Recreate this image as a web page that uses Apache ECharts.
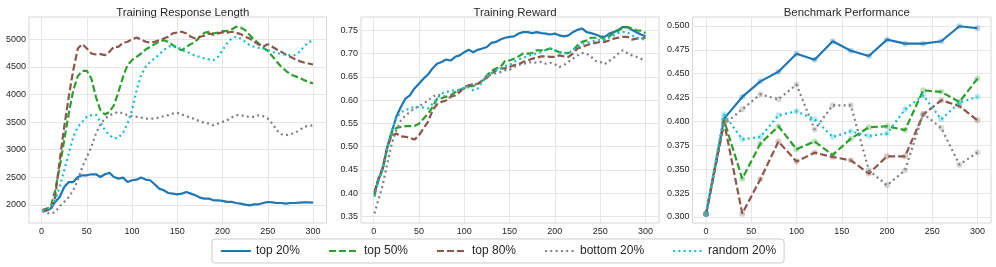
<!DOCTYPE html>
<html>
<head>
<meta charset="utf-8">
<script src="https://cdn.jsdelivr.net/npm/echarts@6/dist/echarts.min.js"></script>
<style>html,body{margin:0;padding:0;background:#fff}#c{width:996px;height:267px}</style>
</head>
<body>
<div id="c"></div>
<script>
// ---- data ----
const methods = ['top 20%', 'top 50%', 'top 80%', 'bottom 20%', 'random 20%'];
const panelTitles = ['Training Response Length', 'Training Reward', 'Benchmark Performance'];
const trainSteps = [1,5,10,15,20,25,30,35,40,45,50,55,60,65,70,75,80,85,90,95,100,105,110,115,120,125,130,135,140,145,150,155,160,165,170,175,180,185,190,195,200,205,210,215,220,225,230,235,240,245,250,255,260,265,270,275,280,285,290,295,300];
const evalSteps = [0,20,40,60,80,100,120,140,160,180,200,220,240,260,280,300];
const xTicks = [0,50,100,150,200,250,300];
const lenTicks = [2000,2500,3000,3500,4000,4500,5000];
const rewTicks = [0.35,0.40,0.45,0.50,0.55,0.60,0.65,0.70,0.75];
const benTicks = [0.300,0.325,0.350,0.375,0.400,0.425,0.450,0.475,0.500];

const lenTop20 = [1890,1895,1935,2055,2145,2325,2415,2415,2505,2537,2537,2555,2555,2507,2555,2580,2507,2477,2495,2417,2447,2457,2495,2460,2447,2374,2296,2266,2217,2205,2193,2205,2235,2205,2175,2133,2115,2115,2085,2085,2073,2055,2055,2036,2024,2006,1994,2012,2012,2036,2054,2048,2036,2036,2024,2036,2036,2042,2048,2048,2042];
const lenTop50 = [1900,1930,1960,2265,2690,3170,3654,4076,4330,4427,4427,4288,3956,3714,3636,3684,3805,4046,4318,4529,4620,4680,4740,4813,4861,4909,4952,4980,4952,4891,4831,4800,4861,4909,4952,5042,5115,5133,5102,5120,5145,5145,5175,5223,5210,5163,5072,4994,4922,4843,4789,4692,4590,4499,4427,4366,4330,4306,4258,4227,4197];
const lenTop80 = [1915,1915,1903,2145,2809,3412,3956,4439,4831,4909,4831,4740,4722,4728,4710,4770,4861,4861,4934,4952,4994,5030,4994,4952,4940,4952,4982,5012,5042,5103,5121,5133,5103,5042,5012,5042,5060,5103,5078,5103,5121,5115,5133,5115,5090,5042,5012,4952,4903,4861,4909,4861,4813,4770,4722,4680,4638,4602,4577,4559,4541];
const lenBottom20 = [1890,1855,1843,1873,1976,2055,2145,2266,2447,2688,2869,3050,3292,3461,3563,3624,3654,3684,3654,3624,3606,3594,3582,3563,3563,3563,3582,3606,3624,3654,3666,3636,3606,3582,3545,3515,3485,3473,3443,3473,3503,3533,3582,3624,3624,3606,3594,3594,3624,3606,3563,3473,3352,3280,3262,3280,3304,3352,3413,3431,3443];
const lenRandom20 = [1903,1915,1952,2085,2326,2628,2930,3231,3413,3503,3594,3624,3636,3503,3352,3262,3201,3219,3304,3473,3714,4076,4348,4499,4590,4650,4722,4800,4861,4891,4861,4800,4770,4740,4692,4680,4650,4632,4620,4680,4800,4922,5012,5042,5012,4952,4891,4861,4843,4831,4800,4770,4740,4740,4710,4710,4710,4770,4861,4940,4982];

const rewTop20 = [0.399,0.427,0.452,0.499,0.531,0.564,0.585,0.603,0.610,0.625,0.635,0.646,0.655,0.668,0.678,0.682,0.687,0.685,0.693,0.696,0.703,0.708,0.703,0.708,0.711,0.714,0.723,0.725,0.730,0.734,0.736,0.737,0.743,0.746,0.746,0.744,0.746,0.744,0.743,0.741,0.743,0.739,0.737,0.739,0.746,0.751,0.754,0.746,0.744,0.741,0.737,0.736,0.743,0.746,0.751,0.757,0.757,0.751,0.746,0.741,0.737];
const rewTop50 = [0.395,0.427,0.452,0.496,0.531,0.540,0.542,0.544,0.544,0.544,0.549,0.560,0.571,0.585,0.603,0.604,0.607,0.610,0.617,0.622,0.625,0.630,0.630,0.635,0.642,0.653,0.663,0.668,0.671,0.684,0.685,0.689,0.694,0.700,0.700,0.701,0.707,0.707,0.708,0.711,0.707,0.703,0.701,0.701,0.707,0.718,0.725,0.728,0.734,0.734,0.736,0.730,0.737,0.744,0.749,0.756,0.757,0.754,0.750,0.749,0.744];
const rewTop80 = [0.402,0.430,0.455,0.498,0.524,0.528,0.522,0.521,0.519,0.515,0.524,0.539,0.553,0.578,0.591,0.596,0.599,0.607,0.610,0.617,0.628,0.632,0.632,0.635,0.642,0.648,0.657,0.664,0.668,0.668,0.671,0.675,0.677,0.682,0.685,0.689,0.691,0.694,0.694,0.693,0.693,0.696,0.694,0.693,0.700,0.711,0.714,0.718,0.721,0.723,0.725,0.725,0.728,0.732,0.734,0.736,0.736,0.730,0.732,0.732,0.734];
const rewBottom20 = [0.356,0.384,0.417,0.463,0.506,0.535,0.556,0.567,0.574,0.582,0.587,0.592,0.599,0.607,0.612,0.610,0.607,0.605,0.614,0.621,0.627,0.632,0.635,0.635,0.642,0.650,0.655,0.658,0.660,0.664,0.665,0.671,0.675,0.678,0.680,0.682,0.680,0.682,0.678,0.680,0.677,0.671,0.675,0.682,0.689,0.696,0.701,0.700,0.693,0.684,0.682,0.677,0.684,0.691,0.700,0.707,0.701,0.696,0.693,0.689,0.684];
const rewRandom20 = [0.392,0.425,0.452,0.496,0.535,0.560,0.574,0.578,0.582,0.585,0.585,0.584,0.582,0.592,0.603,0.614,0.617,0.620,0.621,0.622,0.627,0.627,0.621,0.625,0.639,0.651,0.658,0.663,0.668,0.673,0.675,0.682,0.687,0.691,0.694,0.698,0.700,0.703,0.708,0.711,0.707,0.703,0.701,0.701,0.707,0.714,0.721,0.723,0.725,0.728,0.730,0.730,0.734,0.739,0.744,0.746,0.746,0.739,0.734,0.732,0.730];

const benTop20 = [0.3035,0.403,0.4257,0.442,0.452,0.471,0.4647,0.484,0.474,0.4686,0.4857,0.4815,0.4815,0.484,0.4997,0.4976];
const benTop50 = [0.303,0.401,0.340,0.3768,0.395,0.371,0.379,0.365,0.382,0.394,0.395,0.391,0.4326,0.431,0.4204,0.4448];
const benTop80 = [0.303,0.399,0.3035,0.3395,0.379,0.358,0.3674,0.3628,0.3593,0.3454,0.3635,0.3635,0.4072,0.4222,0.4162,0.4012];
const benBottom20 = [0.303,0.397,0.4127,0.4284,0.4232,0.4386,0.3915,0.4169,0.4169,0.3489,0.3332,0.3489,0.4082,0.3932,0.3548,0.3674];
const benRandom20 = [0.303,0.4075,0.3813,0.3838,0.4065,0.4106,0.4023,0.3838,0.3897,0.3848,0.3873,0.4127,0.4274,0.4023,0.4197,0.4257];

// ---- style ----
const colors = ['#1f77b4', '#2ca02c', '#8c564b', '#7f7f7f', '#17becf'];
const dashes = ['solid', [7, 3], [7, 3], [2, 3.3], [2, 3.3]];
const FONT = '"Liberation Sans", Arial, sans-serif';
const TXT = '#262626';

const panels = [
  { data: [lenTop20, lenTop50, lenTop80, lenBottom20, lenRandom20], steps: trainSteps, ymin: 1674, ymax: 5400, yt: lenTicks, fmt: v => String(v), xmin: -13.95, xmax: 314.95, left: 29, width: 297.5 },
  { data: [rewTop20, rewTop50, rewTop80, rewBottom20, rewRandom20], steps: trainSteps, ymin: 0.3356, ymax: 0.7786, yt: rewTicks, fmt: v => v.toFixed(2), xmin: -13.95, xmax: 314.95, left: 361, width: 298 },
  { data: [benTop20, benTop50, benTop80, benBottom20, benRandom20], steps: evalSteps, ymin: 0.2937, ymax: 0.5094, yt: benTicks, fmt: v => v.toFixed(3), xmin: -15, xmax: 315, left: 692.5, width: 298.5, marker: true }
];

const grids = [], xAxes = [], yAxes = [], titles = [], series = [];
panels.forEach((p, i) => {
  grids.push({ left: p.left, top: 17, width: p.width, height: 206, show: true, borderColor: '#d6d6d6', borderWidth: 1, containLabel: false });
  titles.push({ text: panelTitles[i], left: p.left + p.width / 2, top: 2, textAlign: 'center',
    textStyle: { fontFamily: FONT, fontSize: 11.4, fontWeight: 'normal', color: TXT } });
  xAxes.push({ type: 'value', gridIndex: i, min: p.xmin, max: p.xmax,
    axisLine: { show: false }, axisTick: { show: false, customValues: xTicks },
    axisLabel: { customValues: xTicks, fontFamily: FONT, fontSize: 9, color: TXT, margin: 4 },
    splitLine: { show: true, lineStyle: { color: '#e6e6e6', width: 1 } } });
  yAxes.push({ type: 'value', gridIndex: i, min: p.ymin, max: p.ymax,
    axisLine: { show: false }, axisTick: { show: false, customValues: p.yt },
    axisLabel: { customValues: p.yt, formatter: p.fmt, fontFamily: FONT, fontSize: 9, color: TXT, margin: 3 },
    splitLine: { show: true, lineStyle: { color: '#e6e6e6', width: 1 } } });
  p.data.forEach((vals, j) => {
    series.push({
      name: methods[j], type: 'line', xAxisIndex: i, yAxisIndex: i,
      data: p.steps.map((s, k) => [s, vals[k]]),
      symbol: p.marker ? 'circle' : 'none', symbolSize: 6, showSymbol: !!p.marker,
      itemStyle: { color: colors[j], opacity: 0.3, borderWidth: 0 },
      lineStyle: { color: colors[j], width: 2.2, type: dashes[j], cap: 'butt' },
      emphasis: { disabled: true }, animation: false, z: 2 + j
    });
  });
});

const chart = echarts.init(document.getElementById('c'), null, { renderer: 'canvas' });
chart.setOption({
  backgroundColor: '#ffffff',
  animation: false,
  title: titles,
  grid: grids,
  xAxis: xAxes,
  yAxis: yAxes,
  legend: {
    data: methods, bottom: 4, left: 'center', itemWidth: 30, itemHeight: 10, itemGap: 28,
    borderColor: '#cccccc', borderWidth: 1, borderRadius: 3, padding: [6, 8],
    itemStyle: { opacity: 0 },
    textStyle: { fontFamily: FONT, fontSize: 12, color: TXT },
    selectedMode: false
  },
  series: series
});
</script>
</body>
</html>
